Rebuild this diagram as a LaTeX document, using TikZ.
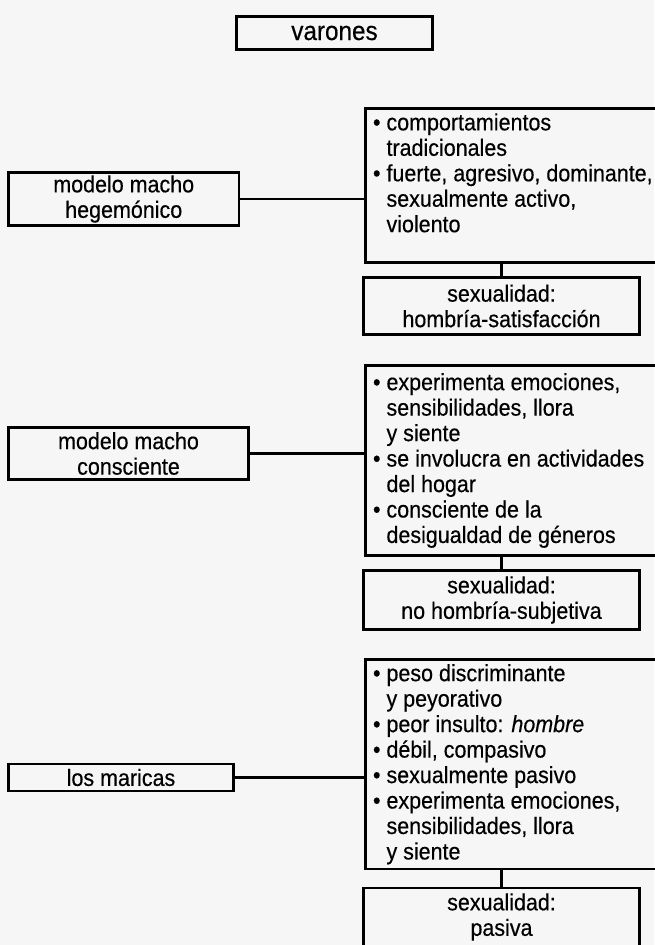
\documentclass[tikz,border=0pt]{standalone}
\usepackage{fontspec}
\setmainfont{Liberation Sans}[FakeStretch=0.915,FakeBold=0.4]
\usepackage{tikz}

\definecolor{fondo}{RGB}{246,246,246}
\newcommand{\punto}{\textbullet\ }
\newcommand{\sangria}{\hphantom{\textbullet\ }}

\begin{document}
\begin{tikzpicture}[x=0.75pt,y=0.75pt,yscale=-1,xscale=1,
  caja/.style={draw, line width=2.2pt, inner sep=0pt, align=center, font=\fontsize{17.6pt}{19.1pt}\selectfont},
  lista/.style={caja, align=flush left, inner xsep=5.6pt, text width=215.6pt},
  linea/.style={line width=2.2pt}]
%set diagram left start at 0, and has height of 945
\fill [fondo] (0,0) rectangle (654,945);
\useasboundingbox (0,0) rectangle (654,945);

%Shape: Rectangle [varones]
\node [caja, minimum width=147pt, minimum height=24.75pt, font=\fontsize{19.9pt}{22pt}\selectfont] (varones) at (334.5,33) {varones};

%Shape: Rectangle [hegemonico]
\node [caja, minimum width=172.9pt, minimum height=39.75pt] (hegem) at (123.75,199) {modelo macho\\ hegemónico};
%Shape: Rectangle [rasgos hegemonico]
\node [lista, minimum height=115.5pt] (rasgosA) at (516.75,185.5) {\punto comportamientos\\ \sangria tradicionales\\ \punto fuerte, agresivo, dominante,\\ \sangria sexualmente activo,\\ \sangria violento\\ \mbox{}};
%Shape: Rectangle [sexualidad hegemonico]
\node [caja, minimum width=207pt, minimum height=42.75pt] (sexA) at (501.5,306) {sexualidad:\\ hombría-satisfacción};

%Shape: Rectangle [consciente]
\node [caja, minimum width=180pt, minimum height=39pt] (consc) at (128.5,453.5) {modelo macho\\ consciente};
%Shape: Rectangle [rasgos consciente]
\node [lista, minimum height=142.5pt] (rasgosB) at (516.75,460.5) {\punto experimenta emociones,\\ \sangria sensibilidades, llora\\ \sangria y siente\\ \punto se involucra en actividades\\ \sangria del hogar\\ \punto consciente de la\\ \sangria desigualdad de géneros};
%Shape: Rectangle [sexualidad consciente]
\node [caja, minimum width=207pt, minimum height=44.25pt] (sexB) at (501.5,600) {sexualidad:\\ no hombría-subjetiva};

%Shape: Rectangle [maricas]
\node [caja, minimum width=168.75pt, minimum height=20.25pt] (maricas) at (121,777.5) {los maricas};
%Shape: Rectangle [rasgos maricas]
\node [lista, minimum height=157.1pt] (rasgosC) at (516.75,764.25) {\punto peso discriminante\\ \sangria y peyorativo\\ \punto peor insulto: \textit{hombre}\\ \punto débil, compasivo\\ \punto sexualmente pasivo\\ \punto experimenta emociones,\\ \sangria sensibilidades, llora\\ \sangria y siente};
%Shape: Rectangle [sexualidad maricas]
\node [caja, minimum width=207pt, minimum height=43.5pt] (sexC) at (501.5,917) {sexualidad:\\ pasiva};

%Straight Lines
\draw [linea] (hegem.east) -- (hegem.east -| rasgosA.west) ;
\draw [linea] (consc.east) -- (consc.east -| rasgosB.west) ;
\draw [linea] (maricas.east) -- (maricas.east -| rasgosC.west) ;
%Straight Lines
\draw [linea] (rasgosA.south -| sexA.north) -- (sexA.north) ;
\draw [linea] (rasgosB.south -| sexB.north) -- (sexB.north) ;
\draw [linea] (rasgosC.south -| sexC.north) -- (sexC.north) ;

\end{tikzpicture}
\end{document}
